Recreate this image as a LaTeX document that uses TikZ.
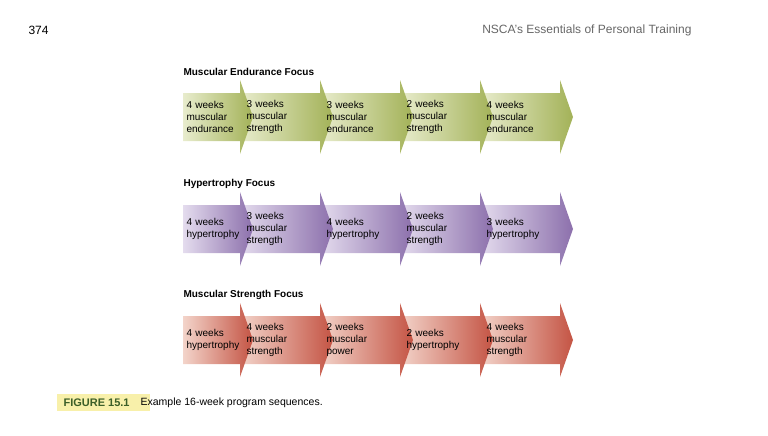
\documentclass[tikz,border=0pt]{standalone}
\usepackage{fontspec}
\setmainfont{Liberation Sans}
\usetikzlibrary{positioning}
\definecolor{endudark}{RGB}{163,178,88}
\definecolor{endulight}{RGB}{232,236,205}
\definecolor{hyperdark}{RGB}{140,112,172}
\definecolor{hyperlight}{RGB}{228,220,238}
\definecolor{strdark}{RGB}{196,84,68}
\definecolor{strlight}{RGB}{243,212,202}
\definecolor{figgreen}{RGB}{60,95,40}
\definecolor{figyellow}{RGB}{248,240,170}
\tikzset{
  heading/.style={anchor=west, font=\bfseries\fontsize{10}{12}\selectfont},
  phase/.style={anchor=west, align=left, font=\fontsize{10}{12}\selectfont, text width=62pt}
}
\begin{document}
\begin{tikzpicture}[x=1pt,y=-1pt]
  \useasboundingbox (0,0) rectangle (768,436);
  \node [anchor=west, font=\fontsize{12}{14}\selectfont] (page) at (25,30) {374};
  \node [anchor=east, text=black!60, font=\fontsize{12}{14}\selectfont] (book) at (695,30) {NSCA’s Essentials of Personal Training};

  % one row of five arrows, drawn right to left so each tip lies on top
  \foreach \row/\cy/\dark/\light/\title/\steps in {
      1/117/endudark/endulight/Muscular Endurance Focus/{{4 weeks\\muscular\\endurance},{3 weeks\\muscular\\strength},{3 weeks\\muscular\\endurance},{2 weeks\\muscular\\strength},{4 weeks\\muscular\\endurance}},
      2/229/hyperdark/hyperlight/Hypertrophy Focus/{{4 weeks\\hypertrophy},{3 weeks\\muscular\\strength},{4 weeks\\hypertrophy},{2 weeks\\muscular\\strength},{3 weeks\\hypertrophy}},
      3/340/strdark/strlight/Muscular Strength Focus/{{4 weeks\\hypertrophy},{4 weeks\\muscular\\strength},{2 weeks\\muscular\\power},{2 weeks\\hypertrophy},{4 weeks\\muscular\\strength}}}{
    \node [heading] (head\row) at (180,\cy-45) {\title};
    \foreach \i in {5,4,...,1}{
      \pgfmathsetmacro{\xs}{\i==1 ? 183 : 160+80*(\i-1)}
      \pgfmathsetmacro{\xe}{160+80*\i}
      \shade [left color=\light, right color=\dark]
        (\xs,\cy-24) -- (\xe,\cy-24) -- (\xe,\cy-37) -- (\xe+13,\cy) -- (\xe,\cy+37)
        -- (\xe,\cy+24) -- (\xs,\cy+24) -- cycle;
    }
    \foreach [count=\i] \txt in \steps {
      \pgfmathsetmacro{\xs}{\i==1 ? 183 : 160+80*(\i-1)+3}
      \node [phase] (s\row\i) at (\xs,\cy) {\txt};
    }
  }

  \fill [figyellow] (57,394) rectangle (150,411);
  \node [anchor=west, text=figgreen, font=\bfseries\fontsize{11}{13}\selectfont] (fig) at (60,402.5) {FIGURE 15.1};
  \node [anchor=west, font=\fontsize{10.5}{13}\selectfont, right=4pt of fig] (cap) {Example 16-week program sequences.};
\end{tikzpicture}
\end{document}
